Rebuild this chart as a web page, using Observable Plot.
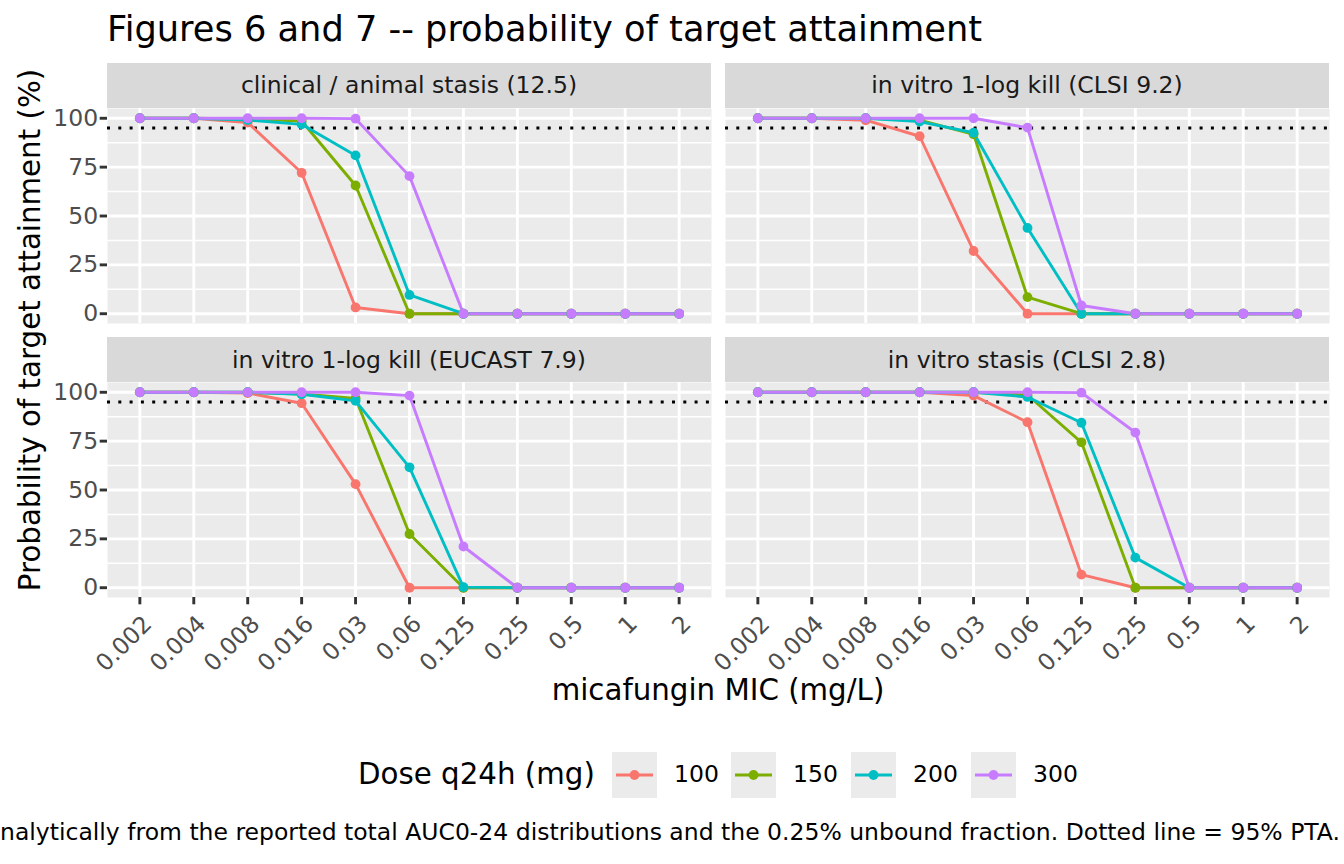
<!DOCTYPE html>
<html>
<head>
<meta charset="utf-8">
<script src="https://cdn.jsdelivr.net/npm/d3@7"></script>
<script src="https://cdn.jsdelivr.net/npm/@observablehq/plot@0.6"></script>
<style>
  html, body { margin: 0; padding: 0; background: #fff; }
  #root { position: relative; width: 1344px; height: 864px; overflow: hidden; font-family: "DejaVu Sans", sans-serif; }
  .abs { position: absolute; white-space: nowrap; line-height: 1; }
  .strip { position: absolute; background: #D9D9D9; color: #1A1A1A; font-size: 23.5px; display: flex; align-items: center; justify-content: center; }
  svg { overflow: visible; }
</style>
</head>
<body>
<div id="root"></div>
<script>
// ---- data ----
const mic = ["0.002","0.004","0.008","0.016","0.03","0.06","0.125","0.25","0.5","1","2"];
const doses = ["100","150","200","300"];
const doseColors = ["#F8766D","#7CAE00","#00BFC4","#C77CFF"];
const panelTitles = [
  "clinical / animal stasis (12.5)",
  "in vitro 1-log kill (CLSI 9.2)",
  "in vitro 1-log kill (EUCAST 7.9)",
  "in vitro stasis (CLSI 2.8)"
];
const yTicks = [0, 25, 50, 75, 100];
const yMinor = [12.5, 37.5, 62.5, 87.5];
const ptaTarget = 95;

// clinical / animal stasis (12.5)
const clinical_100 = [100,100,97.8,72.1,3.2,0,0,0,0,0,0];
const clinical_150 = [100,100,99.6,98.6,65.6,0,0,0,0,0,0];
const clinical_200 = [100,100,99.1,96.9,81.0,9.6,0,0,0,0,0];
const clinical_300 = [100,100,100,100,99.8,70.4,0,0,0,0,0];
// in vitro 1-log kill (CLSI 9.2)
const clsiKill_100 = [100,100,99.0,90.8,32.1,0,0,0,0,0,0];
const clsiKill_150 = [100,100,100,99.1,91.8,8.5,0,0,0,0,0];
const clsiKill_200 = [100,100,100,98.3,92.6,43.9,0,0,0,0,0];
const clsiKill_300 = [100,100,100,100,100,95.2,4.2,0,0,0,0];
// in vitro 1-log kill (EUCAST 7.9)
const eucastKill_100 = [100,100,99.6,94.4,53.0,0,0,0,0,0,0];
const eucastKill_150 = [100,100,100,99.1,96.9,27.5,0,0,0,0,0];
const eucastKill_200 = [100,100,100,99.0,95.6,61.6,0.3,0,0,0,0];
const eucastKill_300 = [100,100,100,100,100,98.3,21.1,0,0,0,0];
// in vitro stasis (CLSI 2.8)
const clsiStasis_100 = [100,100,100,100,98.3,84.7,6.7,0,0,0,0];
const clsiStasis_150 = [100,100,100,100,100,98.6,74.4,0,0,0,0];
const clsiStasis_200 = [100,100,100,100,100,97.6,84.4,15.4,0,0,0];
const clsiStasis_300 = [100,100,100,100,100,100,99.8,79.4,0,0,0];

const panelSeries = [
  [clinical_100, clinical_150, clinical_200, clinical_300],
  [clsiKill_100, clsiKill_150, clsiKill_200, clsiKill_300],
  [eucastKill_100, eucastKill_150, eucastKill_200, eucastKill_300],
  [clsiStasis_100, clsiStasis_150, clsiStasis_200, clsiStasis_300]
];

// ---- layout ----
const root = document.getElementById("root");
const FONT = '"DejaVu Sans", sans-serif';
const panelW = 604, panelH = 215;
const colLeft = [107, 725];
const rowTop = [107.5, 382];
const stripH = 45;

function addDiv(cls, css, text) {
  const d = document.createElement("div");
  d.className = cls;
  Object.assign(d.style, css);
  d.textContent = text;
  root.appendChild(d);
  return d;
}

// title
addDiv("abs", {left: "107px", top: "11px", fontSize: "35.2px", color: "#000"},
  "Figures 6 and 7 -- probability of target attainment");

panelTitles.forEach((title, i) => {
  const col = i % 2, row = Math.floor(i / 2);
  const left = colLeft[col], top = rowTop[row];
  const showY = col === 0, showX = row === 1;
  const mL = showY ? 60 : 0;
  const mB = showX ? 90 : 0;

  // strip
  addDiv("strip", {left: left + "px", top: (top - stripH) + "px", width: panelW + "px", height: stripH + "px"}, title);

  const data = [];
  doses.forEach((dose, k) => {
    panelSeries[i][k].forEach((v, j) => data.push({mic: mic[j], dose, pta: v}));
  });

  const marks = [
    Plot.frame({fill: "#EBEBEB", stroke: null}),
    Plot.ruleY(yMinor, {stroke: "#fff", strokeWidth: 1.5}),
    Plot.ruleY(yTicks, {stroke: "#fff", strokeWidth: 2.9}),
    Plot.ruleX(mic, {stroke: "#fff", strokeWidth: 2.9}),
    Plot.ruleY([ptaTarget], {stroke: "#000", strokeWidth: 3, strokeDasharray: "3,8.3"}),
    Plot.line(data, {x: "mic", y: "pta", z: "dose", stroke: "dose", strokeWidth: 2.9}),
    Plot.dot(data, {x: "mic", y: "pta", fill: "dose", r: 4.9, stroke: null})
  ];
  if (showY) {
    marks.push(Plot.axisY({ticks: yTicks, tickSize: 7.3, tickPadding: 2, stroke: "#333", strokeWidth: 2.9,
      fill: "#4D4D4D", label: null, fontSize: 23.5}));
  }
  if (showX) {
    marks.push(Plot.axisX({ticks: mic, tickSize: 7.3, stroke: "#333", strokeWidth: 2.9, tickFormat: () => "", label: null}));
    marks.push(Plot.text(mic, {x: d => d, text: d => d, frameAnchor: "bottom", rotate: -45, textAnchor: "end",
      lineAnchor: "top", dy: 16, dx: 1.5, fill: "#4D4D4D", fontSize: 23.5}));
  }

  const chart = Plot.plot({
    width: panelW + mL,
    height: panelH + mB,
    marginLeft: mL, marginRight: 0, marginTop: 0, marginBottom: mB,
    style: {fontFamily: FONT, fontSize: "23.5px", background: "transparent", overflow: "visible"},
    x: {type: "point", domain: mic, padding: 0.6, round: false, axis: null, label: null},
    y: {domain: [-5, 105], axis: null, label: null},
    color: {domain: doses, range: doseColors},
    marks
  });
  chart.style.position = "absolute";
  chart.style.left = (left - mL) + "px";
  chart.style.top = top + "px";
  root.appendChild(chart);
});

// axis titles
addDiv("abs", {left: "718px", top: "676px", fontSize: "29.3px", color: "#000", transform: "translateX(-50%)"},
  "micafungin MIC (mg/L)");
addDiv("abs", {left: "31px", top: "330px", fontSize: "29.3px", color: "#000",
  transform: "translate(-50%, -50%) rotate(-90deg)"}, "Probability of target attainment (%)");

// legend
addDiv("abs", {left: "358px", top: "760px", fontSize: "29.3px", color: "#000"}, "Dose q24h (mg)");
const keyX = [612, 731, 851, 971];
doses.forEach((dose, k) => {
  const ns = "http://www.w3.org/2000/svg";
  const s = document.createElementNS(ns, "svg");
  s.setAttribute("width", 45); s.setAttribute("height", 46);
  s.style.position = "absolute"; s.style.left = keyX[k] + "px"; s.style.top = "752px";
  const r = document.createElementNS(ns, "rect");
  r.setAttribute("width", 45); r.setAttribute("height", 46); r.setAttribute("fill", "#EBEBEB");
  s.appendChild(r);
  const l = document.createElementNS(ns, "line");
  l.setAttribute("x1", 4); l.setAttribute("x2", 41); l.setAttribute("y1", 23); l.setAttribute("y2", 23);
  l.setAttribute("stroke", doseColors[k]); l.setAttribute("stroke-width", 2.9);
  s.appendChild(l);
  const c = document.createElementNS(ns, "circle");
  c.setAttribute("cx", 22.5); c.setAttribute("cy", 23); c.setAttribute("r", 4.9); c.setAttribute("fill", doseColors[k]);
  s.appendChild(c);
  root.appendChild(s);
  addDiv("abs", {left: (keyX[k] + 62) + "px", top: "763px", fontSize: "23.5px", color: "#000"}, dose);
});

// caption (right-aligned, overflowing on the left as in the original)
addDiv("abs", {right: "4px", top: "821px", fontSize: "23.5px", color: "#000"},
  "PTA computed analytically from the reported total AUC0-24 distributions and the 0.25% unbound fraction. Dotted line = 95% PTA.");
</script>
</body>
</html>
